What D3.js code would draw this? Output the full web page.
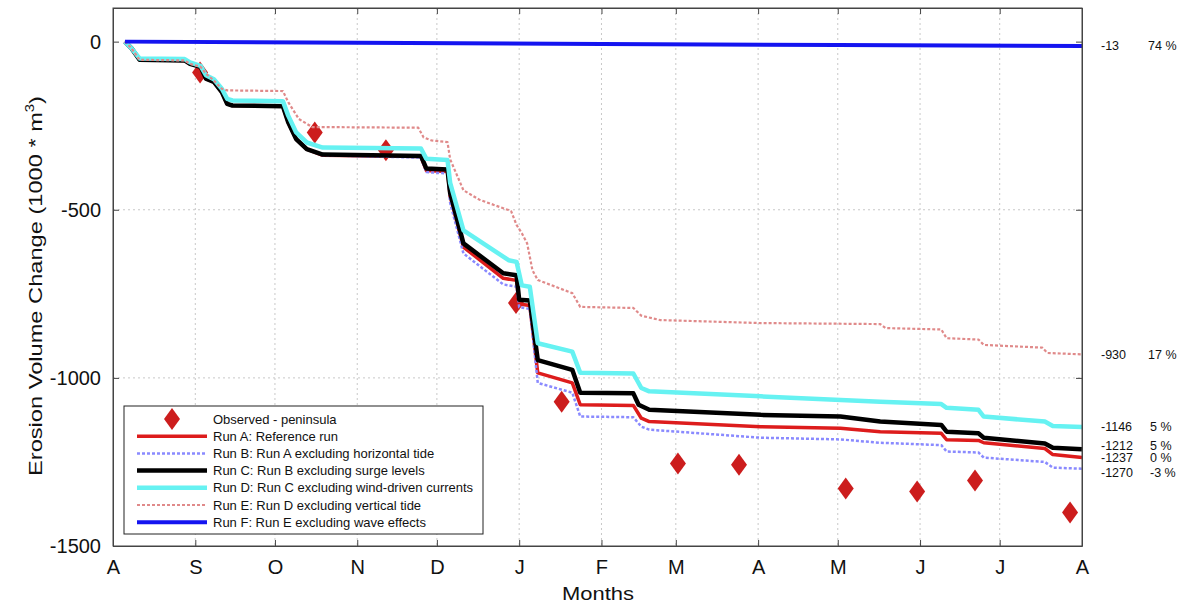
<!DOCTYPE html>
<html>
<head>
<meta charset="utf-8">
<script src="https://cdn.jsdelivr.net/npm/d3@7"></script>
<style>
  body { margin: 0; background: #fff; }
  text { font-family: Arial, "Liberation Sans", sans-serif; fill: #111; }
</style>
</head>
<body>
<div id="viz"></div>
<script>
// days counted from 1 August, values in 1000 m3
var runADays = [4.5, 7, 10, 27, 29, 33, 35, 38, 41, 43, 45, 64, 66, 69, 73, 79, 116, 118, 126, 127, 132, 147, 152, 153, 157, 160, 173, 176, 196, 199, 202, 244, 274, 289, 312, 314, 326, 328, 351, 354, 365];
var runAVals = [0, -20, -54, -56, -66, -75, -110, -120, -150, -185, -190, -192, -240, -290, -320, -338, -342, -383, -386, -460, -611, -704, -710, -780, -785, -985, -1015, -1080, -1082, -1120, -1130, -1145, -1150, -1160, -1165, -1184, -1186, -1193, -1210, -1228, -1237];

var runBDays = [4.5, 7, 10, 27, 29, 33, 35, 38, 41, 43, 45, 64, 66, 69, 73, 79, 116, 118, 126, 127, 132, 147, 152, 153, 157, 160, 173, 176, 196, 199, 202, 244, 274, 289, 312, 314, 326, 328, 351, 354, 365];
var runBVals = [0, -20, -54, -56, -66, -75, -110, -120, -150, -185, -190, -192, -240, -290, -320, -338, -345, -388, -392, -480, -630, -722, -729, -790, -795, -1015, -1044, -1115, -1117, -1145, -1154, -1178, -1183, -1193, -1200, -1219, -1222, -1237, -1250, -1267, -1270];

var runCDays = [4.5, 7, 10, 27, 29, 33, 35, 38, 41, 43, 45, 64, 66, 69, 73, 79, 116, 118, 126, 127, 132, 147, 152, 153, 157, 160, 173, 176, 196, 198, 202, 244, 274, 289, 312, 314, 326, 328, 351, 354, 365];
var runCVals = [0, -20, -54, -56, -66, -75, -110, -120, -150, -185, -190, -192, -240, -290, -320, -336, -340, -377, -380, -450, -600, -689, -695, -768, -770, -947, -976, -1044, -1046, -1080, -1095, -1110, -1115, -1130, -1140, -1160, -1165, -1178, -1195, -1208, -1212];

var runDDays = [4.5, 7, 10, 27, 29, 33, 35, 38, 41, 43, 45, 64, 66, 69, 73, 79, 116, 118, 126, 127, 132, 149, 152, 154, 157, 160, 173, 176, 196, 199, 202, 244, 289, 312, 314, 326, 328, 351, 354, 365];
var runDVals = [0, -20, -50, -52, -62, -72, -100, -112, -140, -170, -175, -177, -220, -270, -300, -315, -318, -348, -352, -420, -561, -650, -655, -725, -729, -897, -922, -985, -987, -1030, -1040, -1055, -1071, -1078, -1089, -1095, -1115, -1130, -1143, -1146];

var runEDays = [4.5, 7, 10, 27, 29, 33, 35, 38, 41, 43, 64, 66, 70, 75, 115, 117, 120, 126, 127, 132, 138, 145, 149, 150, 152, 154, 156, 158, 160, 173, 176, 196, 199, 206, 244, 289, 291, 312, 314, 326, 328, 350, 352, 365];
var runEVals = [0, -20, -54, -56, -66, -75, -95, -116, -140, -145, -147, -180, -230, -254, -256, -285, -294, -299, -350, -442, -470, -490, -501, -505, -545, -570, -600, -680, -709, -748, -789, -792, -815, -828, -837, -840, -852, -856, -882, -886, -902, -910, -926, -930];

var runFDays = [4.5, 92, 184, 273, 365];
var runFVals = [0, -3, -7, -10, -13];

var obsDays = [32.8, 76, 102.8, 151.8, 169, 212.8, 235.8, 276, 302.9, 324.7, 360.5];
var obsVals = [-92, -270, -323, -777, -1071, -1255, -1258, -1329, -1338, -1305, -1400];

var legendNames = ["Observed - peninsula", "Run A: Reference run", "Run B: Run A excluding horizontal tide",
  "Run C: Run B excluding surge levels", "Run D: Run C excluding wind-driven currents",
  "Run E: Run D excluding vertical tide", "Run F: Run E excluding wave effects"];

var endVals = [-13, -930, -1146, -1212, -1237, -1270];
var endPcts = ["74 %", "17 %", "5 %", "5 %", "0 %", "-3 %"];

var yTicks = [0, -500, -1000, -1500];

var margin = {top: 8, right: 112, bottom: 60, left: 113},
    width = 1194 - margin.left - margin.right,
    height = 606 - margin.top - margin.bottom;

var start = new Date(2006, 7, 1), end = new Date(2007, 7, 1);
function toDate(d) { return new Date(start.getTime() + d * 864e5); }

var x = d3.scaleTime().domain([start, end]).range([0, width]);
var y = d3.scaleLinear().domain([-1500, 100]).range([height, 0]);

var svg = d3.select('#viz').append('svg')
    .attr("width", 1194)
    .attr("height", 606);

var g = svg.append("g")
    .attr("transform", "translate(" + margin.left + "," + margin.top + ")");

var months = x.ticks(d3.timeMonth.every(1));

// grid
g.selectAll(".vgrid").data(months.slice(1, -1)).enter().append("line")
    .attr("x1", function(d) { return x(d); }).attr("x2", function(d) { return x(d); })
    .attr("y1", 0).attr("y2", height)
    .attr("stroke", "#c8c8c8").attr("stroke-dasharray", "2,3");
g.selectAll(".hgrid").data([-500, -1000]).enter().append("line")
    .attr("x1", 0).attr("x2", width)
    .attr("y1", function(d) { return y(d); }).attr("y2", function(d) { return y(d); })
    .attr("stroke", "#c8c8c8").attr("stroke-dasharray", "2,3");

// axes with inward ticks
g.append("g").attr("class", "axis x")
    .attr("transform", "translate(0," + height + ")")
    .call(d3.axisBottom(x).tickValues(months).tickSizeInner(-6).tickSizeOuter(0).tickPadding(14)
      .tickFormat(function(d) { return d3.timeFormat("%b")(d).charAt(0); }));
g.append("g").attr("class", "axis xt")
    .call(d3.axisTop(x).tickValues(months).tickSizeInner(-6).tickSizeOuter(0).tickFormat(""));
g.append("g").attr("class", "axis y")
    .call(d3.axisLeft(y).tickValues(yTicks).tickSizeInner(-6).tickSizeOuter(0).tickPadding(12)
      .tickFormat(function(d) { return String(d); }));
g.append("g").attr("class", "axis yr")
    .attr("transform", "translate(" + width + ",0)")
    .call(d3.axisRight(y).tickValues(yTicks).tickSizeInner(-6).tickSizeOuter(0).tickFormat(""));

g.selectAll(".axis path").attr("stroke", "#444");
g.selectAll(".axis line").attr("stroke", "#444");
g.selectAll(".axis text").style("font-size", "20px").attr("fill", "#111");
g.selectAll(".axis.x text").attr("dy", "0.71em");

// observed diamonds
function diamond(s) { return "M0," + (-11 * s) + "L" + (8 * s) + ",0L0," + (11 * s) + "L" + (-8 * s) + ",0Z"; }
g.selectAll(".obs").data(obsDays).enter().append("path")
    .attr("d", diamond(1))
    .attr("transform", function(d, i) { return "translate(" + x(toDate(d)) + "," + y(obsVals[i]) + ")"; })
    .attr("fill", "#cc1d1d");

var runs = [
  {days: runADays, vals: runAVals, color: "#dd1c1c", w: 3.5, dash: null},
  {days: runBDays, vals: runBVals, color: "#8a8aff", w: 2.5, dash: "3,2"},
  {days: runCDays, vals: runCVals, color: "#000000", w: 4.5, dash: null},
  {days: runDDays, vals: runDVals, color: "#66f2f2", w: 4.5, dash: null},
  {days: runEDays, vals: runEVals, color: "#e08a8a", w: 2.2, dash: "3,2"},
  {days: runFDays, vals: runFVals, color: "#1414f0", w: 4, dash: null}
];

var line = d3.line()
    .x(function(d) { return x(toDate(d[0])); })
    .y(function(d) { return y(d[1]); });

runs.forEach(function(r) {
  g.append("path")
      .attr("d", line(d3.zip(r.days, r.vals)))
      .attr("fill", "none")
      .attr("stroke", r.color)
      .attr("stroke-width", r.w)
      .attr("stroke-dasharray", r.dash)
      .attr("stroke-linejoin", "round");
});

// frame
g.append("rect").attr("width", width).attr("height", height)
    .attr("fill", "none").attr("stroke", "#444");

// end labels
var labelShift = [0, 0, 0, -4, 0, 4];
g.selectAll(".endv").data(endVals).enter().append("text")
    .attr("x", width + 19)
    .attr("y", function(d, i) { return y(d) + labelShift[i]; })
    .attr("dy", "0.35em")
    .style("font-size", "12.5px")
    .text(function(d) { return d; });
g.selectAll(".endp").data(endPcts).enter().append("text")
    .attr("x", function(d) { return width + (d.length > 3 && d.charAt(0) != "-" ? 66 : 68); })
    .attr("y", function(d, i) { return y(endVals[i]) + labelShift[i]; })
    .attr("dy", "0.35em")
    .style("font-size", "12.5px")
    .text(function(d) { return d; });

// legend
var lg = g.append("g").attr("transform", "translate(11,398)");
lg.append("rect").attr("width", 359).attr("height", 128)
    .attr("fill", "#fff").attr("stroke", "#222");
legendNames.forEach(function(name, i) {
  var ly = 13 + i * 17.2;
  if (i == 0) {
    lg.append("path").attr("d", diamond(1)).attr("transform", "translate(48," + ly + ")").attr("fill", "#cc1d1d");
  } else {
    var r = runs[i - 1];
    lg.append("line").attr("x1", 13).attr("x2", 83).attr("y1", ly).attr("y2", ly)
        .attr("stroke", r.color).attr("stroke-width", r.w).attr("stroke-dasharray", r.dash);
  }
  lg.append("text").attr("x", 89).attr("y", ly).attr("dy", "0.35em")
      .style("font-size", "13px").text(name);
});

// axis titles
svg.append("text")
    .attr("transform", "translate(42," + (margin.top + height / 2 + 9) + ") rotate(-90)")
    .style("text-anchor", "middle")
    .style("font-size", "19px")
    .attr("textLength", 380)
    .attr("lengthAdjust", "spacingAndGlyphs")
    .html("Erosion Volume Change (1000 * m<tspan dy='-8' font-size='12px'>3</tspan><tspan dy='8'>)</tspan>");

svg.append("text")
    .attr("x", 598)
    .attr("y", 600)
    .style("text-anchor", "middle")
    .style("font-size", "19px")
    .attr("textLength", 72)
    .attr("lengthAdjust", "spacingAndGlyphs")
    .text("Months");
</script>
</body>
</html>
